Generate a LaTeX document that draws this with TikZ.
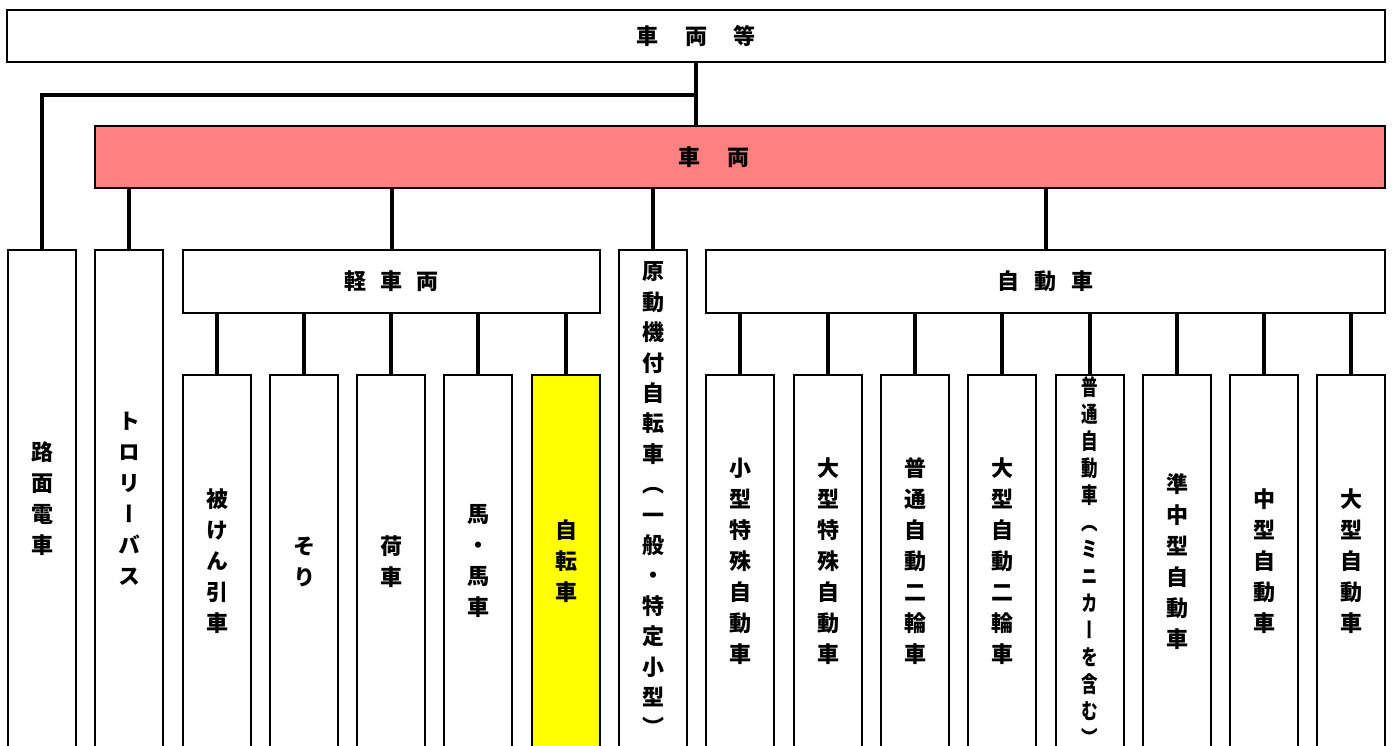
\documentclass[tikz,border=0pt]{standalone}
\usepackage{fontspec}
\newfontfamily\jp[RawFeature=+vert]{Noto Sans CJK JP}
\newfontfamily\jpn[RawFeature=+vert,FakeStretch=0.75]{Noto Sans CJK JP}
\definecolor{redbox}{RGB}{255,128,128}
\definecolor{yelbox}{RGB}{255,255,0}
\begin{document}
\begin{tikzpicture}[x=1pt,y=-1pt,
  box/.style={draw, line width=2pt, inner sep=0pt, fill=white, align=center},
  hbox/.style={box, font=\jp\bfseries\fontsize{22}{26}\selectfont},
  vbox/.style={box, minimum width=68pt, font=\jp\bfseries\fontsize{22}{31}\selectfont},
  vrow2/.style={vbox, minimum height=498pt},
  vrow3/.style={vbox, minimum height=373pt},
  conn/.style={line width=4pt}]
\useasboundingbox (0,0) rectangle (1392,745);
\fill[white] (0,0) rectangle (1392,745);
% top boxes
\node[hbox, minimum width=1378pt, minimum height=52pt] (all) at (696,36)
  {車\hspace{27pt}両\hspace{27pt}等};
\node[hbox, fill=redbox, minimum width=1290pt, minimum height=62pt] (veh) at (740,157)
  {車\hspace{27pt}両\hspace{53pt}};
% row 2
\node[vrow2] (rom) at (42,499) {路\\面\\電\\車};
\node[vrow2] (trol) at (129,499) {ト\\ロ\\リ\\ー\\バ\\ス};
\node[hbox, minimum width=417pt, minimum height=63pt] (kei) at (391.5,281.5)
  {軽\hspace{14pt}車\hspace{14pt}両};
\node[vrow2, font=\jp\bfseries\fontsize{22}{30.4}\selectfont] (gen) at (653,499)
  {原\\動\\機\\付\\自\\転\\車\\（\\一\\般\\・\\特\\定\\小\\型\\）};
\node[hbox, minimum width=679pt, minimum height=63pt] (jido) at (1045.5,281.5)
  {自\hspace{15pt}動\hspace{15pt}車};
% row 3 under 軽車両
\node[vrow3] (hiken) at (217,561.5) {被\\け\\ん\\引\\車};
\node[vrow3] (sori) at (304,561.5) {そ\\り};
\node[vrow3] (nigu) at (391,561.5) {荷\\車};
\node[vrow3] (uma) at (478,561.5) {馬\\・\\馬\\車};
\node[vrow3, fill=yelbox] (jiten) at (566,561.5) {自\\転\\車};
% row 3 under 自動車
\node[vrow3] (kotoku) at (740,561.5) {小\\型\\特\\殊\\自\\動\\車};
\node[vrow3] (ootoku) at (828,561.5) {大\\型\\特\\殊\\自\\動\\車};
\node[vrow3] (futsu2) at (915,561.5) {普\\通\\自\\動\\二\\輪\\車};
\node[vrow3] (oo2) at (1002,561.5) {大\\型\\自\\動\\二\\輪\\車};
\node[vrow3, font=\jpn\bfseries\fontsize{22}{27}\selectfont] (futsu) at (1090,561.5)
  {普\\通\\自\\動\\車\\（\\ミ\\ニ\\カ\\ー\\を\\含\\む\\）};
\node[vrow3] (junchu) at (1177,561.5) {準\\中\\型\\自\\動\\車};
\node[vrow3] (chu) at (1264,561.5) {中\\型\\自\\動\\車};
\node[vrow3] (oogata) at (1351,561.5) {大\\型\\自\\動\\車};
% connectors
\coordinate (j) at (696,95);
\draw[conn] (all.south) -- (all.south |- veh.north);
\draw[conn] (j) -| (rom.north);
\foreach \c in {trol,kei,gen,jido}
  \draw[conn] (\c.north) -- (\c.north |- veh.south);
\foreach \c in {hiken,sori,nigu,uma,jiten}
  \draw[conn] (\c.north) -- (\c.north |- kei.south);
\foreach \c in {kotoku,ootoku,futsu2,oo2,futsu,junchu,chu,oogata}
  \draw[conn] (\c.north) -- (\c.north |- jido.south);
\end{tikzpicture}
\end{document}
